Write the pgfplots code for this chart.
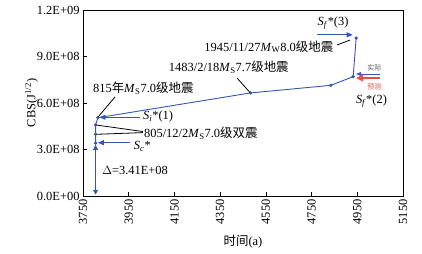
\documentclass[border=0pt]{standalone}
\usepackage{pgfplots}
\pgfplotsset{compat=1.18}
\usepackage{fontspec}
\setmainfont{Liberation Serif}
\newfontfamily\cjk{Noto Sans CJK SC}
\usetikzlibrary{arrows.meta}
\definecolor{lineblue}{RGB}{55,85,175}
\definecolor{predred}{RGB}{230,80,70}
\begin{document}
\begin{tikzpicture}[font=\fontsize{12.5}{14}\selectfont]
\begin{axis}[
  scale only axis, width=320bp, height=186bp,
  xmin=3750, xmax=5150, ymin=0, ymax=1.2e9,
  xtick={3750,3950,4150,4350,4550,4750,4950,5150},
  ytick={0,3e8,6e8,9e8,1.2e9},
  yticklabels={0.0E+00,3.0E+08,6.0E+08,9.0E+08,1.2E+09},
  scaled y ticks=false, scaled x ticks=false,
  /pgf/number format/1000 sep={},
  /pgf/number format/assume math mode=true,
  xticklabel style={rotate=90, anchor=east},
  tick align=inside, xtick pos=bottom, ytick pos=left,
  major tick length=4bp,
  tick style={black, line width=0.6pt},
  xlabel={{\cjk 时间}(a)},
  ylabel={CBS(J\textsuperscript{1/2})},
  xlabel shift=4bp,
  ylabel shift=-8bp,
  axis line style={line width=0.8pt},
  clip=false,
]
\coordinate (bbsw) at (rel axis cs:0,0);
\coordinate (bbne) at (rel axis cs:1,1);
% data
\addplot[lineblue, line width=0.9pt, mark=*, mark size=1.2pt, mark options={fill=lineblue}]
  coordinates {(3805,3.41e8)(3805,3.98e8)(3805,4.58e8)(3815,5.05e8)(4483,6.65e8)(4834,7.14e8)(4932,7.70e8)(4945,1.019e9)};
% Delta arrow
\addplot[lineblue, line width=0.9pt, {Triangle[length=5bp,width=5bp]}-{Triangle[length=5bp,width=5bp]}]
  coordinates {(3805,0.08e8)(3805,3.30e8)};
% annotations
\node[anchor=south] at (axis cs:4844,1.050e9) {\textit{S}\textsubscript{\textit{f}}*(3)};
\draw[lineblue, line width=0.9pt, -{Triangle[length=6bp,width=5bp]}] (axis cs:4774,1.040e9) -- (axis cs:4930,1.040e9);
\node[anchor=east, inner sep=1pt] at (axis cs:4850,9.63e8) {1945/11/27\textit{M}\textsubscript{W}8.0{\cjk 级地震}};
\draw[black, line width=0.8pt] (axis cs:4861,9.74e8) -- (axis cs:4918,1.006e9);
\node[anchor=east, inner sep=1pt] at (axis cs:4655,8.32e8) {1483/2/18\textit{M}\textsubscript{S}7.7{\cjk 级地震}};
\draw[black, line width=0.8pt] (axis cs:4424,7.61e8) -- (axis cs:4481,6.67e8);
\node[anchor=west, inner sep=1pt] at (axis cs:3789,6.97e8) {815{\cjk 年}\textit{M}\textsubscript{S}7.0{\cjk 级地震}};
\draw[black, line width=0.8pt] (axis cs:3890,6.39e8) -- (axis cs:3816,5.10e8);
\node[anchor=west, inner sep=1pt] at (axis cs:4008,5.12e8) {\textit{S}\textsubscript{\textit{i}}*(1)};
\draw[lineblue, line width=0.9pt, -{Triangle[length=6bp,width=5bp]}] (axis cs:4000,5.08e8) -- (axis cs:3822,5.08e8);
\node[anchor=west, inner sep=1pt] at (axis cs:4012,4.07e8) {805/12/2\textit{M}\textsubscript{S}7.0{\cjk 级双震}};
\draw[black, line width=0.8pt] (axis cs:4012,4.16e8) -- (axis cs:3807,4.58e8);
\draw[black, line width=0.8pt] (axis cs:4012,4.09e8) -- (axis cs:3807,3.98e8);
\node[anchor=west, inner sep=0pt] at (axis cs:3972,3.22e8) {\textit{S}\textsubscript{\textit{c}}*};
\draw[lineblue, line width=0.9pt, -{Triangle[length=6bp,width=5bp]}] (axis cs:3956,3.44e8) -- (axis cs:3815,3.44e8);
\node[anchor=west, inner sep=1pt] at (axis cs:3829,1.68e8) {$\Delta$=3.41E+08};
% S_f(2)
\draw[lineblue, line width=0.8pt, -{Triangle[length=5bp,width=4bp]}] (axis cs:5049,7.87e8) -- (axis cs:4945,7.87e8);
\draw[predred, line width=1.2pt, -{Triangle[length=7bp,width=7bp]}] (axis cs:5049,7.61e8) -- (axis cs:4945,7.61e8);
\node[text=gray!70!black, font=\fontsize{7}{8}\selectfont\cjk] at (axis cs:5025,8.26e8) {实际};
\node[text=predred, font=\fontsize{7}{8}\selectfont\cjk] at (axis cs:5025,7.03e8) {预测};
\node at (axis cs:5012,6.13e8) {\textit{S}\textsubscript{\textit{f}}*(2)};
\end{axis}
\pgfresetboundingbox
\path ([xshift=-83bp,yshift=-58bp]bbsw) rectangle ([xshift=19bp,yshift=10bp]bbne);
\end{tikzpicture}
\end{document}
